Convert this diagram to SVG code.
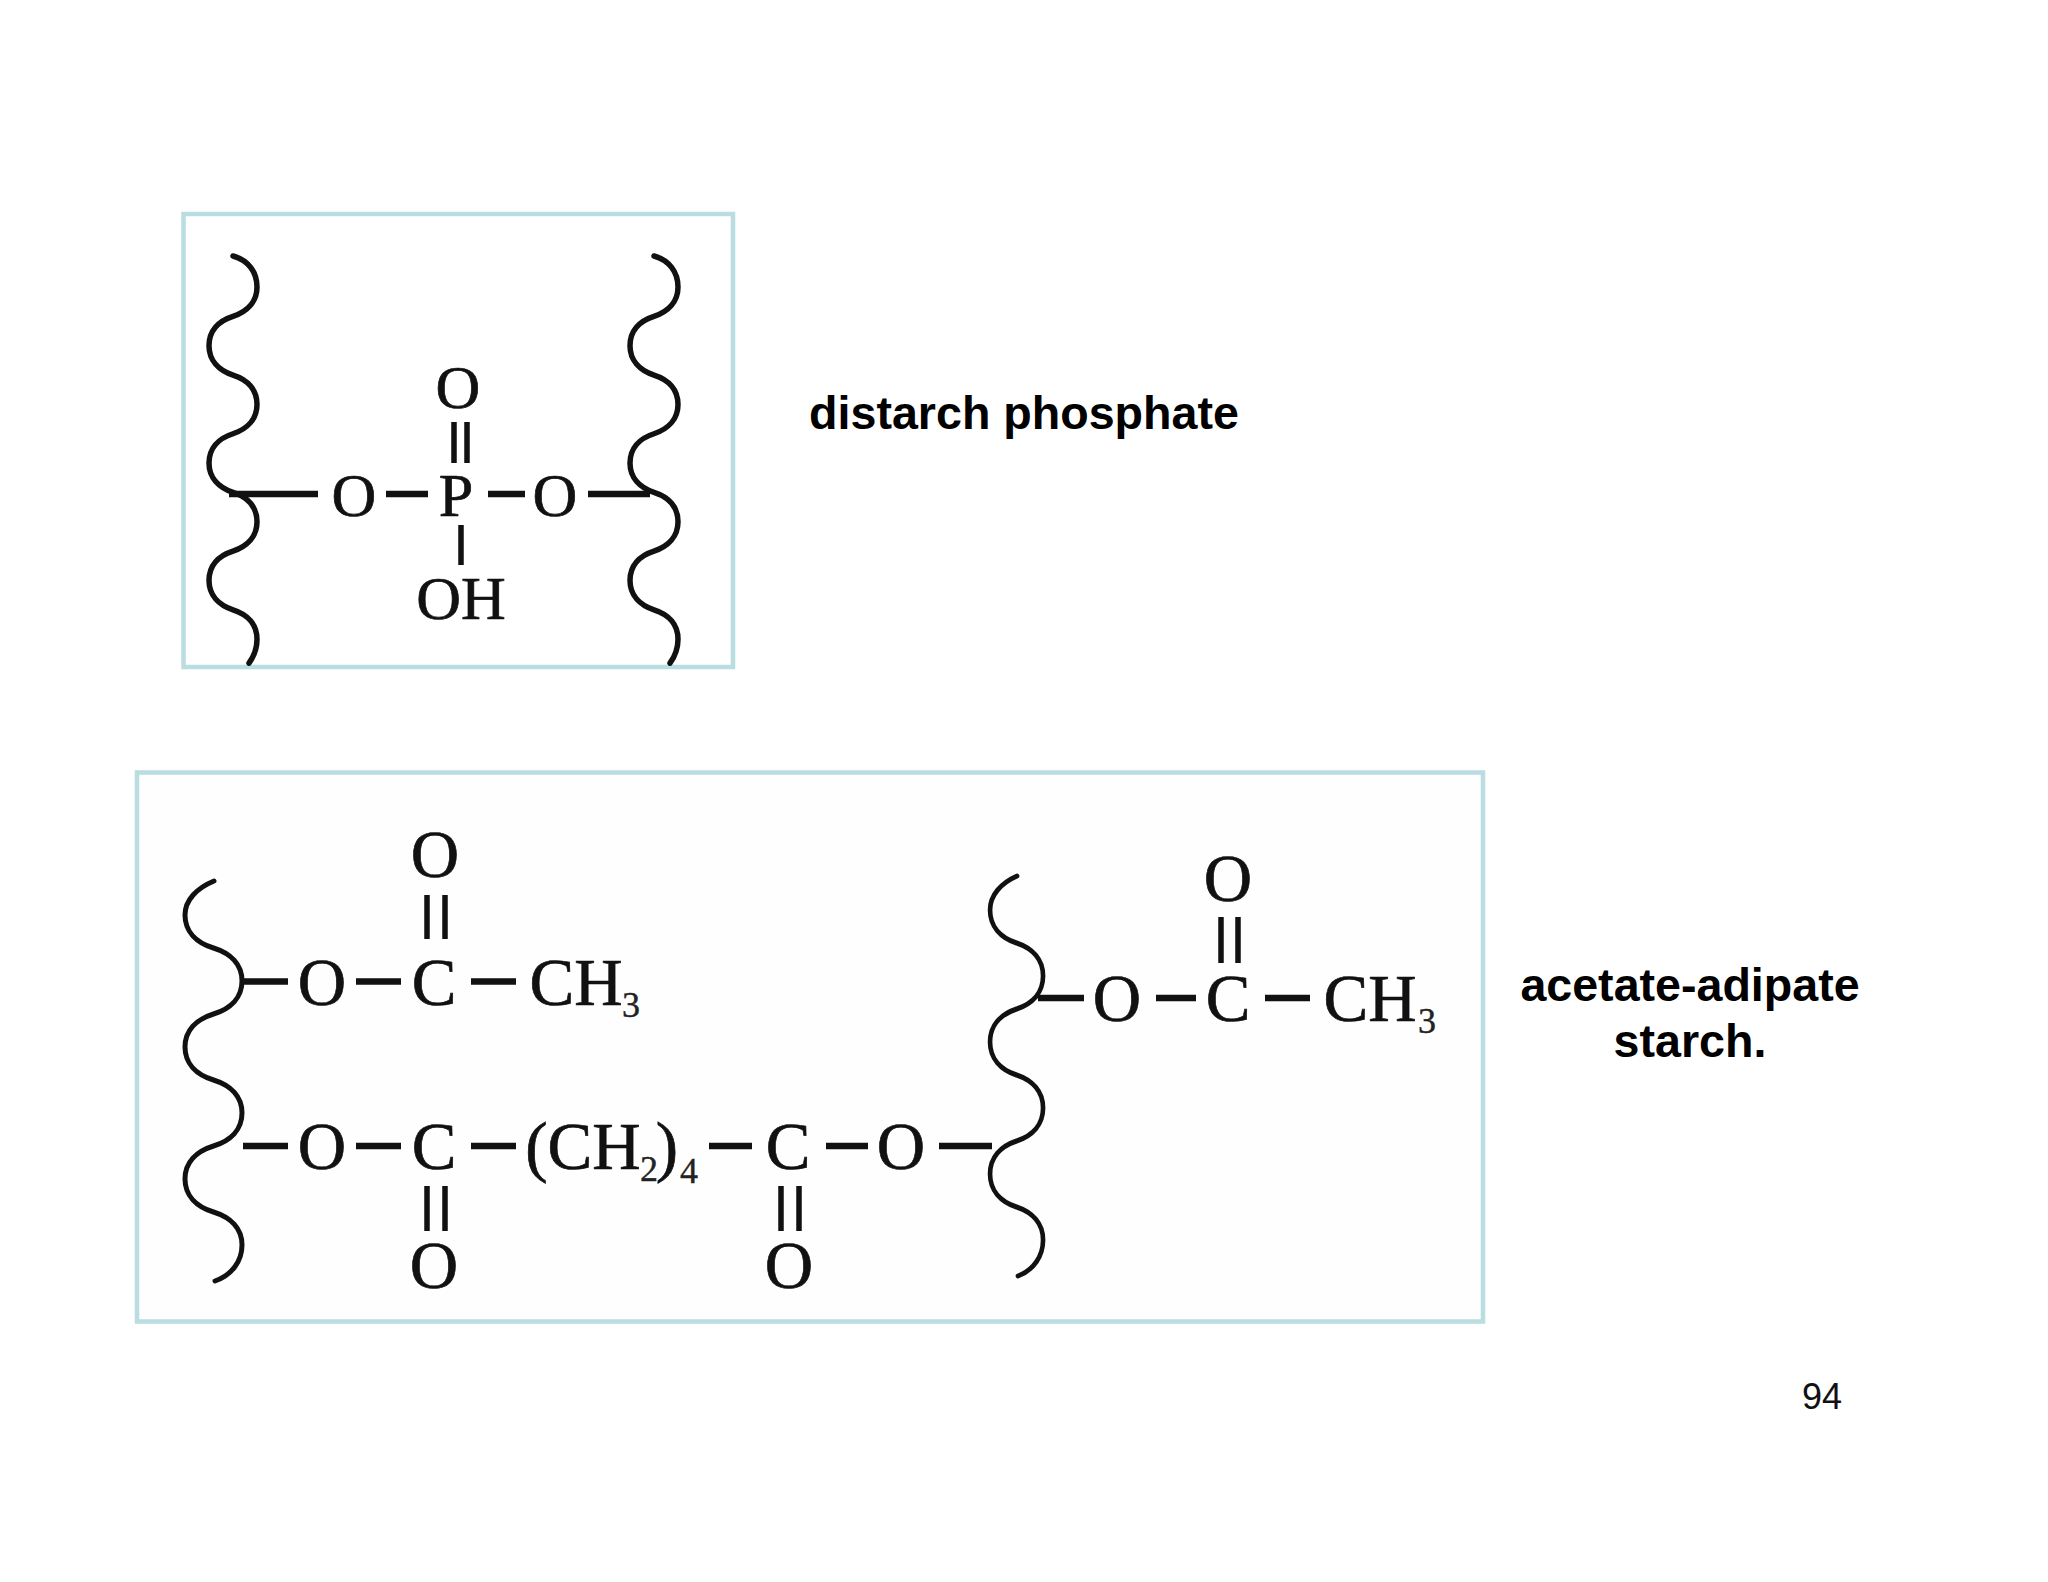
<svg xmlns="http://www.w3.org/2000/svg" width="2048" height="1582" viewBox="0 0 2048 1582">
<style>
.frame{fill:none;stroke:#b9dde0;stroke-width:4.5}
.wave{fill:none;stroke:#111;stroke-linecap:round}
.bond{stroke:#111;stroke-width:6.500;fill:none}
.thin{stroke:#111;stroke-width:5.500;fill:none}
.a1{font-family:"Liberation Serif","Times New Roman",serif;font-size:62px;fill:#111;stroke:#111;stroke-width:.7;text-anchor:middle}
.a2{font-family:"Liberation Serif","Times New Roman",serif;font-size:67px;fill:#111;stroke:#111;stroke-width:.7;text-anchor:middle}
.sub{font-family:"Liberation Serif","Times New Roman",serif;font-size:36px;fill:#222;stroke:#222;stroke-width:.4}
.lab{font-family:"Liberation Sans",Arial,sans-serif;font-size:46.600px;font-weight:bold;fill:#000;text-anchor:middle}
.num{font-family:"Liberation Sans",Arial,sans-serif;font-size:36px;fill:#111;text-anchor:middle}
</style>
<defs>
<path id="chain1" class="wave" stroke-width="5.500" d="M233,256C248,260 257,272 257,287c0,14.700 -9.900,24.600 -24,29.350c-14.850,4.700 -24,14.700 -24,29.350c0,14.700 9.900,24.600 24,29.350c14.850,4.700 24,14.700 24,29.350c0,14.700 -9.900,24.600 -24,29.350c-14.850,4.700 -24,14.700 -24,29.350c0,14.700 9.900,24.600 24,29.350c14.850,4.700 24,14.700 24,29.350c0,14.700 -9.900,24.600 -24,29.350c-14.850,4.700 -24,14.700 -24,29.350c0,14.700 9.900,24.600 24,29.350c14.850,4.700 24,14.700 24,29.350c0,9 -3,17 -8,24"/>
<path id="chain2" class="wave" stroke-width="5" d="M214,881C197,888 185,900 185,915c0,16.500 11.400,27.700 28.500,33c17.100,5.300 28.500,16.500 28.500,33c0,16.500 -11.400,27.700 -28.500,33c-17.100,5.300 -28.500,16.500 -28.500,33c0,16.500 11.400,27.700 28.500,33c17.100,5.300 28.500,16.500 28.500,33c0,16.500 -11.400,27.700 -28.500,33c-17.100,5.300 -28.500,16.500 -28.500,33c0,16.500 11.400,27.700 28.500,33c17.100,5.300 28.500,16.500 28.500,33c0,16 -10,30 -27,36"/>
</defs>
<rect id="page" width="2048" height="1582" fill="#fff"/>
<g id="frames">
<rect id="frame-phosphate" class="frame" x="183.500" y="214" width="549.500" height="453"/>
<rect id="frame-acetate" class="frame" x="137" y="772.500" width="1346" height="549" style="fill:#fefefe"/>
</g>
<g id="chains">
<use href="#chain1"/>
<use href="#chain1" x="421"/>
<use href="#chain2"/>
<use href="#chain2" transform="matrix(.93 0 0 1 818 -5)"/>
</g>
<g id="connectors">
<path class="bond" d="M229,494H318M386,494H428M488,494H525M588,494H650"/>
<path class="thin" d="M454,422V463M467,422V463M461,525V565"/>
<path class="bond" d="M242,981.500H288M356,981.500H401M471,981.500H516"/>
<path class="thin" d="M427,895V939M445,895V939"/>
<path class="bond" d="M243,1146H288M356,1146H401M471,1146H516M709,1146H752M826,1146H868M939,1146H992"/>
<path class="thin" d="M427,1186V1231M445,1186V1231M781,1186V1231M799,1186V1231"/>
<path class="bond" d="M1038,998H1084M1156,998H1196M1265,998H1310"/>
<path class="thin" d="M1221,917V963M1238,917V963"/>
</g>
<g id="phosphate-atoms">
<g id="p-o-top"><text class="a1" x="458" y="408">O</text></g>
<g id="p-o-left"><text class="a1" x="354" y="516">O</text></g>
<g id="p-p"><text class="a1" x="456" y="516">P</text></g>
<g id="p-o-right"><text class="a1" x="555" y="516">O</text></g>
<g id="p-oh"><text class="a1" x="461" y="619">OH</text></g>
</g>
<g id="acetate-atoms">
<g id="a-o1"><text class="a2" x="435" y="877">O</text></g>
<g id="a-o2"><text class="a2" x="322" y="1005">O</text></g>
<g id="a-c1"><text class="a2" x="434" y="1005">C</text></g>
<g id="a-ch3-1"><text class="a2" x="576" y="1005">CH</text><text class="sub" x="622" y="1017">3</text></g>
<g id="a-o3"><text class="a2" x="322" y="1169">O</text></g>
<g id="a-c2"><text class="a2" x="434" y="1169">C</text></g>
<g id="a-ch2"><text class="a2" x="583" y="1169">(CH</text><text class="sub" x="640" y="1181">2</text><text class="a2" x="667" y="1169">)</text><text class="sub" x="680" y="1183">4</text></g>
<g id="a-o4"><text class="a2" x="434" y="1288">O</text></g>
<g id="a-c3"><text class="a2" x="788" y="1169">C</text></g>
<g id="a-o5"><text class="a2" x="789" y="1288">O</text></g>
<g id="a-o6"><text class="a2" x="901" y="1169">O</text></g>
<g id="a-o7"><text class="a2" x="1228" y="901">O</text></g>
<g id="a-o8"><text class="a2" x="1117" y="1021">O</text></g>
<g id="a-c4"><text class="a2" x="1228" y="1021">C</text></g>
<g id="a-ch3-2"><text class="a2" x="1370" y="1021">CH</text><text class="sub" x="1418" y="1033">3</text></g>
</g>
<g id="labels">
<g id="label-phosphate"><text class="lab" x="1024" y="429">distarch phosphate</text></g>
<g id="label-acetate"><text class="lab" x="1690" y="1001">acetate-adipate</text><text class="lab" x="1690" y="1057">starch.</text></g>
<g id="page-number"><text class="num" x="1822" y="1409">94</text></g>
</g>
</svg>
